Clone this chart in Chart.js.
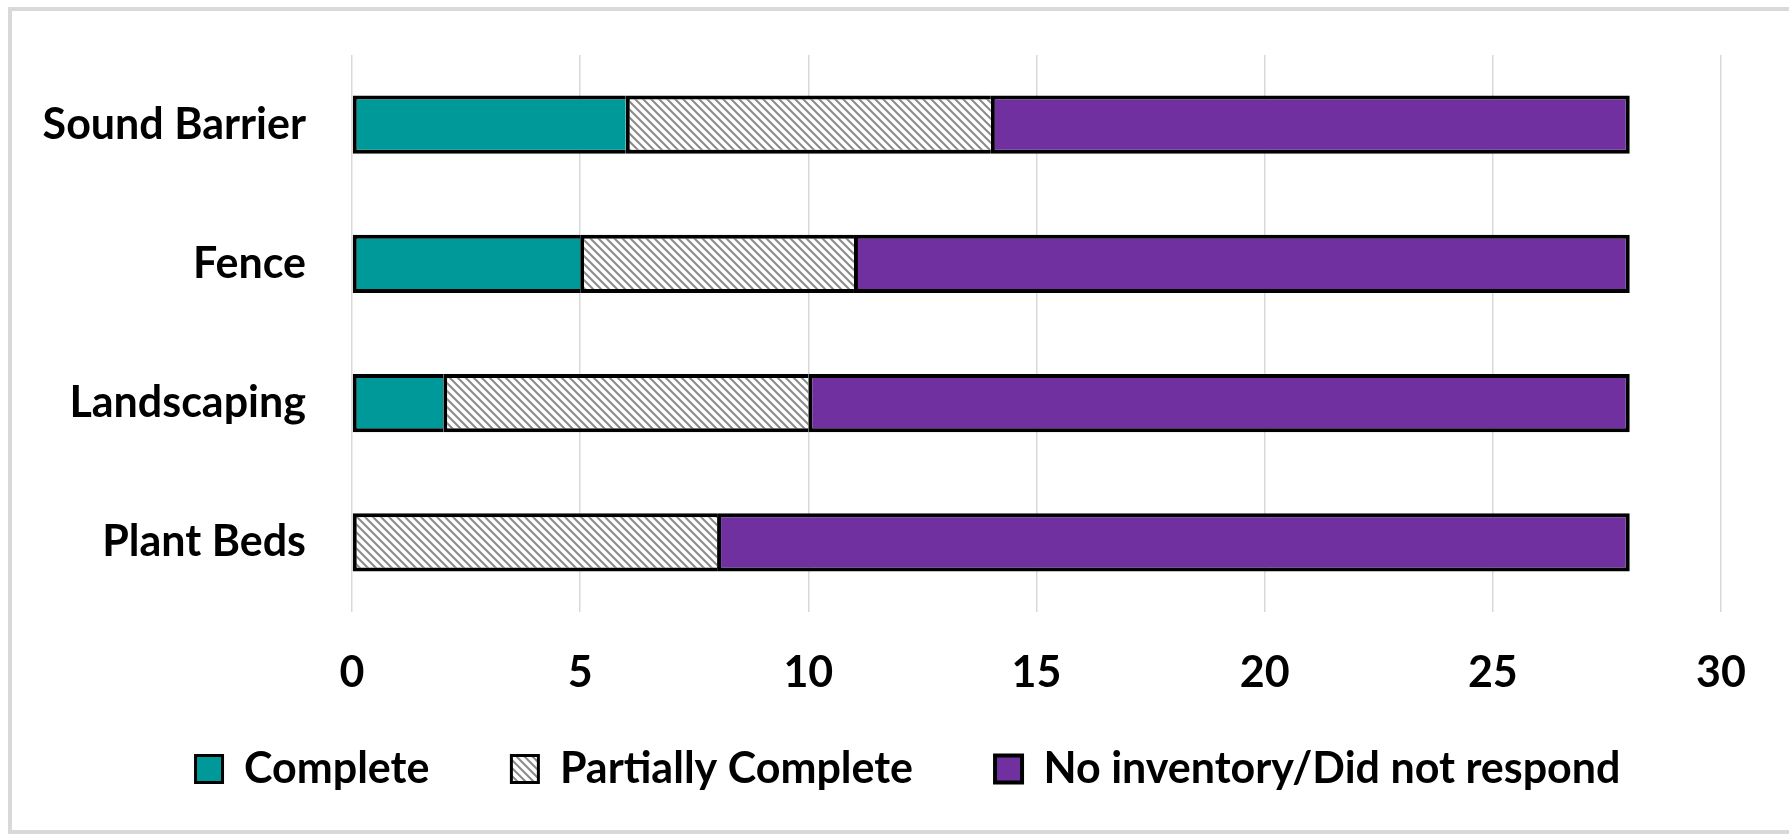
<!DOCTYPE html>
<html>
<head>
<meta charset="utf-8">
<script src="https://cdn.jsdelivr.net/npm/chart.js@4"></script>
<style>
  html, body { margin: 0; padding: 0; background: #ffffff; overflow: hidden; }
  #wrap { position: relative; width: 1789px; height: 835px; }
  #frame {
    position: absolute; left: 8px; top: 7px; width: 1800px; height: 819px;
    border: 4px solid #d9d9d9; pointer-events: none;
  }
  canvas { position: absolute; left: 0; top: 0; }
</style>
</head>
<body>
<div id="wrap">
  <canvas id="chart" width="1789" height="835"></canvas>
  <div id="frame"></div>
</div>
<script>
// Inventory status by asset type (number of responding agencies)
const categories = ['Sound Barrier', 'Fence', 'Landscaping', 'Plant Beds'];
const seriesNames = ['Complete', 'Partially Complete', 'No inventory/Did not respond'];
const completeCounts = [6, 5, 2, 0];
const partialCounts = [8, 6, 8, 8];
const noInventoryCounts = [14, 17, 18, 20];
const axisMin = 0;
const axisMax = 30;
const axisStep = 5;

const FONT = "'Lato', 'Open Sans', sans-serif";
const FONT_SIZE = 43;

// Diagonal hatch for the "Partially Complete" series
function makeHatch() {
  const size = 8;
  const c = document.createElement('canvas');
  c.width = size; c.height = size;
  const g = c.getContext('2d');
  g.fillStyle = '#ffffff';
  g.fillRect(0, 0, size, size);
  g.strokeStyle = '#8a8a8a';
  g.lineWidth = 2;
  g.beginPath();
  g.moveTo(-2, -2); g.lineTo(size + 2, size + 2);
  g.moveTo(-2, size - 2); g.lineTo(2, size + 2);
  g.moveTo(size - 2, -2); g.lineTo(size + 2, 2);
  g.stroke();
  return g.createPattern(c, 'repeat');
}

const ctx = document.getElementById('chart').getContext('2d');
const hatch = makeHatch();

// Shared edges between stacked segments are drawn once
const inner = { top: 4, bottom: 4, left: 4, right: 0 };
const closing = { top: 4, bottom: 4, left: 4, right: 4 };

const labelFont = { family: FONT, size: FONT_SIZE, weight: 'bold' };

new Chart(ctx, {
  type: 'bar',
  data: {
    labels: categories,
    datasets: [
      { label: seriesNames[0], data: completeCounts, backgroundColor: '#009999',
        borderColor: '#000000', borderWidth: inner, borderSkipped: false },
      { label: seriesNames[1], data: partialCounts, backgroundColor: hatch,
        borderColor: '#000000', borderWidth: inner, borderSkipped: false },
      { label: seriesNames[2], data: noInventoryCounts, backgroundColor: '#7030a0',
        borderColor: '#000000', borderWidth: closing, borderSkipped: false }
    ]
  },
  options: {
    indexAxis: 'y',
    responsive: false,
    animation: false,
    layout: { padding: { left: 27, right: 0, top: 55, bottom: 34.5 } },
    datasets: { bar: { categoryPercentage: 1.0, barPercentage: 0.42 } },
    scales: {
      x: {
        stacked: true,
        min: axisMin, max: axisMax,
        ticks: { stepSize: axisStep, color: '#000000', mirror: true, padding: -87,
                 font: labelFont },
        grid: { color: '#d9d9d9', lineWidth: 1.5, drawTicks: false },
        border: { display: false },
        afterFit: (s) => { s.height = 53.5; }
      },
      y: {
        stacked: true,
        ticks: { color: '#000000', padding: 46, font: labelFont },
        grid: { display: false, drawTicks: false },
        border: { display: false },
        afterFit: (s) => { s.width = 325; s.paddingTop = 0; s.paddingBottom = 0; }
      },
      // empty gutter on the right of the plot
      gutter: {
        type: 'linear', axis: 'y', position: 'right',
        ticks: { display: false },
        grid: { display: false, drawTicks: false },
        border: { display: false },
        afterFit: (s) => { s.width = 68; s.paddingTop = 0; s.paddingBottom = 0; }
      }
    },
    plugins: {
      legend: {
        position: 'bottom',
        labels: {
          color: '#000000', boxWidth: 27, boxHeight: 27, padding: 82,
          font: labelFont
        }
      },
      tooltip: { enabled: false }
    }
  }
});
</script>
</body>
</html>
